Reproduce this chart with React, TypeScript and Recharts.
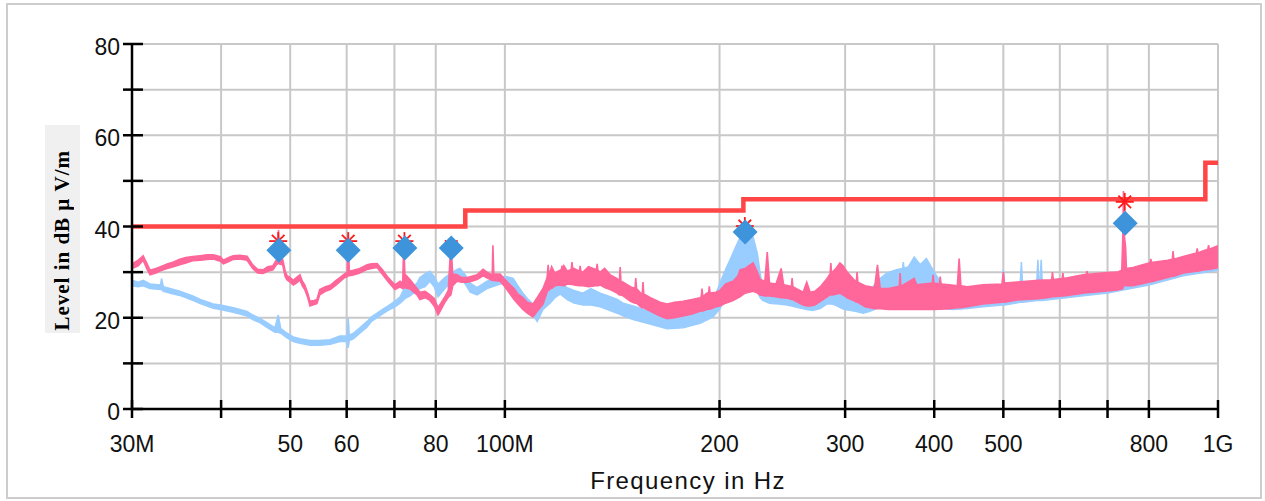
import React from 'react';
import { ComposedChart, Area, Line, Scatter, XAxis, YAxis, CartesianGrid } from 'recharts';

// ---- axis ticks ----
const xTicks = [30, 40, 50, 60, 70, 80, 100, 200, 300, 400, 500, 600, 700, 800, 1000];
const xTickLabels = ['30M', '', '50', '60', '', '80', '100M', '200', '300', '400', '500', '', '', '800', '1G'];
const yTicks = [0, 10, 20, 30, 40, 50, 60, 70, 80];
const yTickLabels = ['0', '', '20', '', '40', '', '60', '', '80'];

// ---- limit line (MHz, dBµV/m) ----
const limitFreq = [30, 88, 88, 216, 216, 960, 960, 1000];
const limitVal = [40, 40, 43.5, 43.5, 46, 46, 54, 54];

// ---- pink trace (MHz, low edge, high edge) ----
const pinkFreq = [30.0, 30.6, 31.1, 31.5, 31.8, 32.4, 32.9, 33.6, 34.3, 35.0, 35.7, 36.5, 37.4, 38.2, 39.0, 39.9, 40.3, 41.0, 41.6, 42.5, 43.5, 44.3, 45.0, 45.8, 46.5, 47.3, 47.8, 48.0, 48.15, 48.3, 48.8, 49.2, 49.5, 50.0, 50.5, 51.0, 51.6, 52.0, 52.4, 52.9, 53.3, 54.0, 54.5, 55.0, 56.0, 56.9, 58.0, 58.7, 59.6, 60.1, 60.3, 60.5, 61.3, 62.6, 64.1, 65.0, 66.2, 67.3, 68.6, 70.1, 71.3, 71.9, 72.15, 72.4, 73.6, 75.3, 76.0, 77.3, 78.5, 79.6, 80.6, 81.5, 82.4, 83.3, 84.0, 84.5, 85.7, 87.0, 88.5, 89.4, 91.4, 93.2, 94.8, 96.0, 96.2, 96.5, 98.5, 100.0, 101.7, 103.0, 104.3, 106.0, 107.5, 109.5, 111.0, 113.1, 114.5, 115.7, 116.3, 117.5, 119.5, 121.0, 122.3, 125.0, 128.7, 131.0, 134.0, 136.0, 138.0, 140.5, 143.7, 146.5, 150.0, 155.0, 160.0, 165.0, 168.8, 173.0, 177.8, 183.0, 187.8, 192.0, 197.6, 200.3, 204.0, 208.9, 212.3, 213.6, 217.2, 220.0, 222.9, 226.0, 228.0, 231.5, 233.3, 235.0, 240.0, 244.0, 246.0, 250.0, 256.0, 262.0, 265.0, 268.0, 272.0, 277.0, 283.0, 288.0, 292.0, 295.0, 298.0, 302.0, 310.0, 320.0, 330.0, 333.0, 336.0, 345.0, 360.0, 375.0, 378.0, 400.0, 420.0, 431.0, 433.5, 436.0, 445.0, 468.0, 498.0, 500.0, 502.0, 523.0, 560.0, 582.0, 647.0, 700.0, 722.0, 733.0, 735.5, 737.0, 739.0, 742.0, 744.0, 760.0, 800.0, 850.0, 894.0, 950.0, 1000.0];
const pinkLo = [30.8, 31.4, 32.6, 30.6, 29.4, 29.8, 30.3, 30.8, 31.2, 31.6, 32.0, 32.5, 32.6, 32.8, 32.9, 32.4, 31.8, 32.3, 32.8, 32.9, 32.6, 30.8, 29.8, 29.7, 30.2, 30.5, 31.6, 31.8, 32.0, 31.8, 31.6, 29.0, 28.3, 27.8, 27.2, 27.6, 28.3, 27.0, 26.2, 24.5, 22.6, 22.9, 23.1, 25.0, 25.8, 26.2, 27.2, 27.9, 28.8, 29.0, 29.2, 29.2, 29.4, 29.8, 30.6, 30.8, 31.0, 29.6, 27.9, 26.2, 26.8, 26.4, 26.5, 26.6, 26.3, 25.0, 24.0, 24.4, 23.8, 22.6, 20.6, 22.0, 23.4, 24.5, 25.0, 27.0, 28.0, 27.8, 27.8, 27.9, 28.4, 29.2, 28.6, 28.2, 28.2, 28.2, 28.0, 26.8, 25.2, 24.0, 23.0, 21.8, 21.0, 20.2, 21.4, 23.0, 25.4, 26.4, 26.4, 27.0, 27.2, 27.0, 27.4, 27.2, 27.0, 26.8, 27.0, 27.2, 26.6, 26.2, 25.4, 24.8, 23.6, 22.4, 21.4, 20.4, 19.8, 20.0, 20.4, 20.8, 21.4, 21.8, 22.4, 22.6, 23.2, 23.8, 24.4, 24.6, 25.4, 25.6, 25.8, 25.4, 25.0, 24.8, 24.8, 24.8, 24.6, 24.4, 24.4, 24.2, 23.6, 22.8, 22.6, 22.6, 22.8, 23.6, 24.6, 25.0, 25.2, 25.4, 25.0, 24.4, 23.6, 22.4, 22.0, 22.0, 22.0, 21.8, 21.8, 21.8, 21.8, 21.8, 22.0, 22.2, 22.2, 22.2, 22.4, 23.0, 23.4, 23.4, 23.4, 23.9, 24.2, 24.5, 25.4, 25.9, 26.1, 26.3, 26.4, 27.0, 27.0, 27.0, 27.0, 27.0, 27.8, 28.8, 29.8, 30.4, 31.0];
const pinkHi = [31.8, 32.6, 33.6, 31.8, 30.4, 30.8, 31.2, 31.8, 32.2, 32.8, 33.2, 33.4, 33.6, 33.8, 33.8, 33.4, 32.6, 33.2, 33.6, 33.7, 33.5, 31.6, 30.6, 30.5, 31.2, 31.4, 32.6, 33.0, 39.2, 33.4, 32.8, 30.2, 29.2, 28.8, 28.2, 28.8, 29.4, 28.0, 27.2, 25.4, 23.6, 23.8, 24.0, 26.2, 26.8, 27.1, 28.2, 28.8, 29.6, 30.0, 38.1, 30.2, 30.4, 30.8, 31.6, 31.8, 31.9, 30.6, 28.8, 27.2, 28.0, 27.6, 36.6, 29.6, 28.4, 26.4, 25.6, 25.8, 25.0, 24.2, 22.2, 23.4, 24.6, 26.0, 36.4, 29.6, 29.4, 28.8, 28.8, 29.0, 29.4, 30.6, 29.8, 29.4, 35.9, 29.6, 29.6, 28.4, 27.2, 26.4, 25.2, 24.4, 23.4, 23.0, 24.4, 26.4, 28.6, 30.0, 31.2, 29.8, 30.4, 31.4, 30.2, 30.8, 30.0, 31.2, 30.6, 30.0, 30.8, 29.4, 28.6, 27.8, 26.8, 25.4, 24.4, 23.4, 23.0, 23.4, 23.6, 24.0, 24.4, 25.4, 25.6, 26.0, 27.4, 28.0, 29.2, 30.5, 30.8, 31.4, 32.0, 30.0, 28.4, 28.0, 34.4, 27.6, 27.4, 30.8, 27.2, 27.0, 26.4, 25.6, 27.8, 25.6, 25.8, 26.8, 28.6, 30.0, 31.0, 32.0, 31.4, 30.0, 28.0, 27.0, 26.6, 31.6, 26.4, 26.4, 27.0, 28.6, 27.2, 27.6, 27.2, 27.0, 33.0, 27.0, 26.8, 27.2, 27.4, 30.0, 27.6, 27.8, 28.2, 28.3, 29.4, 29.9, 30.0, 30.4, 38.0, 47.8, 38.0, 35.5, 30.8, 31.0, 32.0, 32.6, 33.4, 34.6, 35.8];

// narrow pink spikes: centre (MHz), band low, band high, spike top
const pinkSpikeFreq = [115.0, 120.3, 124.2, 127.5, 134.7, 145.1, 152.6, 156.2, 189.0, 193.5, 252.8, 286.5, 311.8, 358.3, 398.6, 407.8, 586.0, 606.0, 655.0, 805.0, 865.0, 935.0, 970.0];
const pinkSpikeLo = [26.0, 27.1, 27.3, 27.0, 27.0, 25.0, 23.2, 22.2, 21.5, 21.9, 24.0, 25.0, 23.4, 21.8, 21.8, 21.9, 24.6, 24.8, 25.5, 27.9, 29.1, 30.2, 30.6];
const pinkSpikeHi = [29.4, 30.6, 30.6, 30.2, 30.4, 28.0, 26.4, 25.2, 24.6, 25.4, 26.8, 29.6, 27.8, 26.9, 27.6, 27.4, 28.4, 28.6, 29.5, 32.1, 32.8, 34.2, 35.0];
const pinkSpikeTop = [31.6, 31.4, 32.2, 31.4, 31.8, 31.1, 28.7, 27.8, 26.4, 26.9, 28.7, 32.0, 30.0, 29.8, 29.4, 29.0, 30.0, 29.8, 30.2, 32.9, 34.6, 35.2, 35.9];

// ---- light blue trace (MHz, low edge, high edge) ----
const blueFreq = [30.0, 30.6, 31.1, 31.8, 32.9, 33.0, 33.2, 34.3, 35.0, 36.5, 37.4, 39.0, 39.9, 41.6, 42.5, 43.5, 44.3, 45.4, 46.5, 47.6, 48.1, 48.5, 49.5, 50.5, 51.6, 53.3, 55.0, 56.9, 58.7, 60.1, 60.3, 60.5, 61.3, 62.6, 64.1, 65.0, 66.2, 67.3, 68.6, 70.1, 71.3, 72.4, 73.6, 75.3, 76.0, 77.3, 78.5, 79.6, 80.6, 82.4, 83.7, 85.7, 86.5, 88.0, 89.4, 91.4, 94.4, 98.5, 100.7, 102.7, 104.3, 106.0, 107.5, 109.5, 111.0, 113.1, 115.7, 117.5, 119.5, 122.3, 125.0, 128.7, 132.0, 136.0, 140.5, 143.7, 146.5, 151.3, 159.8, 168.8, 177.8, 187.8, 195.9, 200.3, 204.0, 206.9, 210.0, 213.6, 217.2, 220.0, 222.9, 226.0, 228.0, 229.9, 235.0, 242.0, 248.8, 255.0, 265.0, 270.0, 276.7, 282.7, 288.0, 292.3, 297.0, 300.0, 310.0, 318.0, 325.0, 332.0, 343.6, 355.0, 368.0, 375.0, 382.3, 390.0, 400.0, 410.0, 425.0, 445.0, 468.0, 498.0, 500.0, 502.0, 528.0, 530.0, 532.0, 557.0, 559.0, 561.0, 563.0, 565.0, 567.0, 582.0, 647.0, 700.0, 800.0, 894.0, 1000.0];
const blueLo = [27.0, 26.8, 27.0, 26.4, 26.2, 26.2, 25.8, 25.2, 24.9, 23.8, 23.1, 22.1, 21.8, 21.2, 20.8, 20.4, 19.6, 18.9, 17.8, 16.8, 16.8, 16.6, 15.6, 14.8, 14.4, 14.0, 14.0, 14.2, 14.8, 14.8, 13.4, 15.0, 15.4, 16.6, 18.0, 19.2, 20.0, 20.8, 21.6, 22.4, 23.2, 24.2, 24.8, 26.0, 26.4, 26.8, 28.0, 26.8, 24.6, 26.4, 27.6, 28.6, 29.0, 27.4, 25.6, 25.0, 26.4, 27.4, 27.6, 26.6, 24.4, 22.8, 21.6, 20.6, 19.2, 21.8, 23.2, 24.4, 25.2, 24.0, 23.2, 22.8, 22.8, 22.4, 21.6, 21.0, 20.4, 19.6, 18.6, 17.6, 17.8, 18.8, 20.2, 22.0, 24.4, 26.0, 27.6, 28.6, 29.0, 28.6, 27.6, 25.6, 24.4, 23.8, 23.2, 23.0, 22.8, 22.4, 21.8, 21.6, 22.0, 23.0, 23.0, 22.6, 22.0, 21.8, 21.4, 21.0, 21.4, 22.0, 22.4, 23.0, 23.4, 23.6, 23.4, 23.0, 22.6, 22.0, 21.8, 22.0, 22.4, 22.8, 22.8, 22.8, 23.4, 23.4, 23.4, 23.8, 23.8, 23.8, 23.8, 23.8, 23.8, 24.0, 24.8, 25.4, 27.2, 29.2, 30.4];
const blueHi = [28.2, 27.8, 28.2, 27.4, 27.2, 28.6, 26.8, 26.2, 25.8, 24.8, 24.0, 23.0, 22.8, 22.2, 21.8, 21.4, 20.6, 19.8, 18.8, 17.8, 20.6, 17.6, 16.6, 15.8, 15.4, 15.0, 15.0, 15.2, 16.0, 16.0, 20.0, 16.2, 16.6, 17.8, 19.2, 20.2, 21.0, 21.8, 22.6, 23.6, 24.6, 26.6, 26.0, 27.6, 28.8, 29.6, 30.2, 29.0, 27.4, 28.8, 29.6, 30.6, 30.8, 29.4, 27.6, 26.6, 28.0, 29.0, 29.0, 28.6, 27.0, 25.4, 24.2, 23.0, 23.0, 24.6, 26.0, 27.2, 27.6, 26.6, 26.0, 25.4, 26.4, 25.4, 24.6, 24.0, 23.2, 22.6, 21.4, 20.2, 20.6, 21.6, 23.6, 27.6, 30.6, 32.7, 35.0, 37.6, 39.9, 38.8, 37.7, 34.0, 29.8, 26.6, 26.4, 27.6, 26.0, 26.0, 24.8, 25.2, 25.6, 26.0, 26.8, 27.0, 26.4, 25.6, 24.6, 24.0, 25.6, 28.0, 29.8, 30.6, 31.2, 33.3, 31.6, 33.0, 30.0, 27.4, 26.0, 26.4, 26.8, 27.2, 30.5, 27.2, 27.4, 32.2, 27.4, 27.6, 32.7, 27.6, 27.6, 32.7, 27.6, 27.6, 28.8, 29.4, 31.4, 33.0, 35.0];

const blueSpikeFreq = [362.0];
const blueSpikeLo = [23.2];
const blueSpikeHi = [30.8];
const blueSpikeTop = [32.2];

// ---- markers: quasi-peak (diamonds) and peak (asterisks) ----
const qpFreq = [48.2, 60.3, 72.4, 84.1, 217.2, 741];
const qpVal = [34.8, 34.8, 35.3, 35.3, 38.8, 40.7];
const pkFreq = [48.1, 60.3, 72.3, 84.1, 217.0, 740];
const pkVal = [36.8, 36.8, 36.8, 35.6, 40.1, 45.4];

type RangePt = { f: number; r: number[] };
const zipRange = (f: number[], lo: number[], hi: number[]): RangePt[] =>
  f.map((v, i) => ({ f: v, r: [lo[i], hi[i]] }));
// each spike becomes a very narrow peak sitting on the band
const spikePts = (f: number[], lo: number[], hi: number[], top: number[]): RangePt[] =>
  f.flatMap((v, i) => [
    { f: v * 0.9975, r: [lo[i], hi[i]] },
    { f: v, r: [lo[i], top[i]] },
    { f: v * 1.0025, r: [lo[i], hi[i]] },
  ]);
const byFreq = (a: RangePt, b: RangePt) => a.f - b.f;
const zipPts = (f: number[], v: number[]) => f.map((x, i) => ({ f: x, v: v[i] }));

const pinkData = [...zipRange(pinkFreq, pinkLo, pinkHi), ...spikePts(pinkSpikeFreq, pinkSpikeLo, pinkSpikeHi, pinkSpikeTop)].sort(byFreq);
const blueData = [...zipRange(blueFreq, blueLo, blueHi), ...spikePts(blueSpikeFreq, blueSpikeLo, blueSpikeHi, blueSpikeTop)].sort(byFreq);
const limitData = zipPts(limitFreq, limitVal);
const qpData = zipPts(qpFreq, qpVal);
const pkData = zipPts(pkFreq, pkVal);

const PINK = '#ff6699';
const BLUE = '#99ccff';
const LIMIT = '#ff4545';
const DIAMOND = '#3d94da';
const TICK_FONT = '"Liberation Sans", Arial, sans-serif';

const XTick = (props: any) => {
  const { x, y, payload } = props;
  const idx = xTicks.indexOf(payload.value);
  const label = idx >= 0 ? xTickLabels[idx] : '';
  return (
    <g>
      <line x1={x} x2={x} y1={y - 9} y2={y + 9} stroke="#000" strokeWidth={2.5} />
      {label && (
        <text x={x} y={y + 43} textAnchor="middle" fontSize={23} fontFamily={TICK_FONT} fill="#111">
          {label}
        </text>
      )}
    </g>
  );
};

const YTick = (props: any) => {
  const { x, y, payload } = props;
  const idx = yTicks.indexOf(payload.value);
  const label = idx >= 0 ? yTickLabels[idx] : '';
  return (
    <g>
      <line x1={x - 9} x2={x + 11} y1={y} y2={y} stroke="#000" strokeWidth={2.5} />
      {label && (
        <text x={x - 12} y={y + 11} textAnchor="end" fontSize={23} fontFamily={TICK_FONT} fill="#111">
          {label}
        </text>
      )}
    </g>
  );
};

const Diamond = (props: any) => {
  const { cx, cy } = props;
  const s = 12.5;
  return <polygon points={`${cx},${cy - s} ${cx + s},${cy} ${cx},${cy + s} ${cx - s},${cy}`} fill={DIAMOND} />;
};

const Asterisk = (props: any) => {
  const { cx, cy } = props;
  const r = 9;
  const d = r * 0.7;
  return (
    <g stroke="#ff1a1a" strokeWidth={1.8}>
      <line x1={cx} x2={cx} y1={cy - r} y2={cy + r} />
      <line x1={cx - r} x2={cx + r} y1={cy} y2={cy} />
      <line x1={cx - d} x2={cx + d} y1={cy - d} y2={cy + d} />
      <line x1={cx - d} x2={cx + d} y1={cy + d} y2={cy - d} />
    </g>
  );
};

export default function App() {
  return (
    <div style={{ position: 'absolute', left: 0, top: 0, width: 1265, height: 501, background: '#fff' }}>
      <div
        style={{
          position: 'absolute',
          left: 6,
          top: 3,
          width: 1256,
          height: 496,
          border: '2px solid #cdcdcd',
          boxSizing: 'border-box',
        }}
      />
      <div
        style={{
          position: 'absolute',
          left: 45,
          top: 125,
          width: 35,
          height: 208,
          background: '#f0f0f0',
          display: 'flex',
          alignItems: 'center',
          justifyContent: 'center',
        }}
      >
        <span
          style={{
            marginTop: 22,
            writingMode: 'vertical-rl',
            transform: 'rotate(180deg)',
            fontFamily: '"Liberation Serif", "Times New Roman", serif',
            fontWeight: 'bold',
            fontSize: 21,
            letterSpacing: 1.0,
            color: '#000',
            whiteSpace: 'nowrap',
          }}
        >
          Level in dB μ V/m
        </span>
      </div>
      <div style={{ position: 'absolute', left: 0, top: 0 }}>
        <ComposedChart width={1265} height={501} margin={{ top: 44, right: 47, bottom: 42, left: 72 }}>
          <CartesianGrid stroke="#c8c8c8" strokeWidth={2} />
          <XAxis
            dataKey="f"
            type="number"
            scale="log"
            domain={[30, 1000]}
            ticks={xTicks}
            interval={0}
            allowDataOverflow
            height={50}
            tickSize={0}
            tickMargin={0}
            tickLine={false}
            axisLine={{ stroke: '#000', strokeWidth: 2.5 }}
            tick={XTick}
          />
          <YAxis
            type="number"
            domain={[0, 80]}
            ticks={yTicks}
            interval={0}
            width={60}
            tickSize={0}
            tickMargin={0}
            tickLine={false}
            axisLine={{ stroke: '#000', strokeWidth: 2.5 }}
            tick={YTick}
          />
          <Scatter data={pkData} dataKey="v" shape={Asterisk} isAnimationActive={false} />
          <Scatter data={qpData} dataKey="v" shape={Diamond} isAnimationActive={false} />
          <Area
            data={blueData}
            dataKey="r"
            type="linear"
            stroke={BLUE}
            strokeWidth={1.5}
            fill={BLUE}
            fillOpacity={1}
            dot={false}
            activeDot={false}
            isAnimationActive={false}
          />
          <Area
            data={pinkData}
            dataKey="r"
            type="linear"
            stroke={PINK}
            strokeWidth={1.6}
            fill={PINK}
            fillOpacity={1}
            dot={false}
            activeDot={false}
            isAnimationActive={false}
          />
          <Line
            data={limitData}
            dataKey="v"
            type="linear"
            stroke={LIMIT}
            strokeWidth={4.5}
            dot={false}
            activeDot={false}
            isAnimationActive={false}
          />
        </ComposedChart>
      </div>
      <div
        style={{
          position: 'absolute',
          left: 0,
          width: 1376,
          top: 469,
          textAlign: 'center',
          fontFamily: TICK_FONT,
          fontSize: 24,
          lineHeight: '24px',
          letterSpacing: 1.4,
          color: '#111',
        }}
      >
        Frequency in Hz
      </div>
    </div>
  );
}
